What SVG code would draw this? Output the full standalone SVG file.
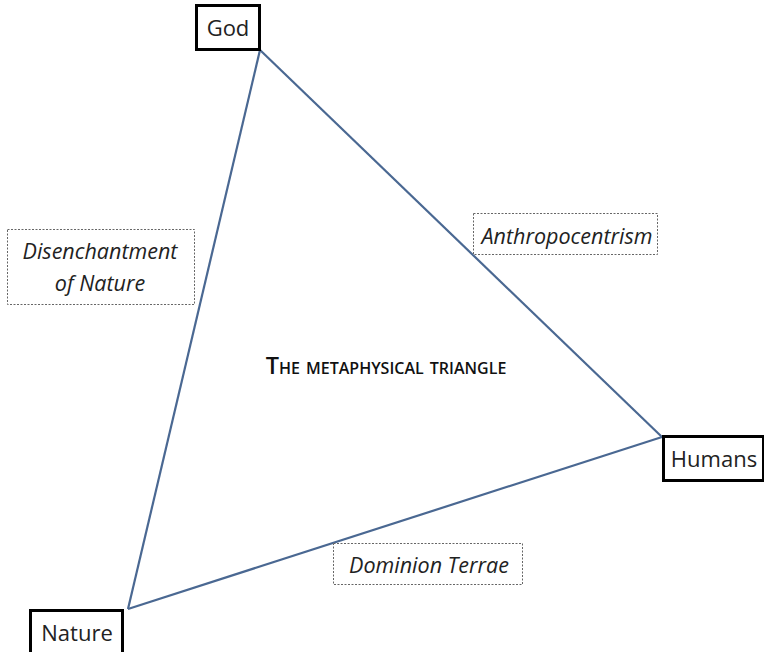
<svg xmlns="http://www.w3.org/2000/svg" width="764" height="652" viewBox="0 0 764 652">
<style>
.node rect{fill:#fff;stroke:#000;stroke-width:3}
.node text{font-family:"Open Sans","Noto Sans",sans-serif;font-size:22px;fill:#222;text-anchor:middle}
.lab rect{fill:#fff;stroke:#666;stroke-width:1;stroke-dasharray:2 1.5}
.lab text{font-family:"Open Sans","Noto Sans",sans-serif;font-size:21.5px;font-style:italic;fill:#222;text-anchor:middle}
.edge{stroke:#4a6892;stroke-width:2.2;fill:none}
.title{font-family:"Open Sans","Noto Sans",sans-serif;font-size:23.5px;font-weight:600;font-variant:small-caps;fill:#111;text-anchor:middle}
</style>
<rect width="764" height="652" fill="#fff"/>
<g id="connectors">
<line class="edge" x1="260" y1="50" x2="662" y2="437"/>
<line class="edge" x1="662" y1="437" x2="128" y2="609"/>
<line class="edge" x1="128" y1="609" x2="260" y2="50"/>
</g>
<g id="label-disenchantment" class="lab">
<rect x="7.5" y="229.5" width="187" height="75"/>
<text x="100" y="259">Disenchantment</text>
<text x="100" y="291">of Nature</text>
</g>
<g id="label-anthropocentrism" class="lab">
<rect x="473.5" y="213.5" width="184" height="41"/>
<text x="567" y="244">Anthropocentrism</text>
</g>
<g id="label-dominion" class="lab">
<rect x="333.5" y="543.5" width="189" height="41"/>
<text x="429" y="573">Dominion Terrae</text>
</g>
<g id="title">
<text class="title" x="386" y="374">The metaphysical triangle</text>
</g>
<g id="node-god" class="node">
<rect x="196.5" y="5.5" width="63" height="44"/>
<text x="228" y="36">God</text>
</g>
<g id="node-humans" class="node">
<rect x="663.5" y="436.5" width="100" height="44"/>
<text x="714" y="467">Humans</text>
</g>
<g id="node-nature" class="node">
<rect x="30.5" y="610.5" width="92" height="44"/>
<text x="77" y="641">Nature</text>
</g>
</svg>
